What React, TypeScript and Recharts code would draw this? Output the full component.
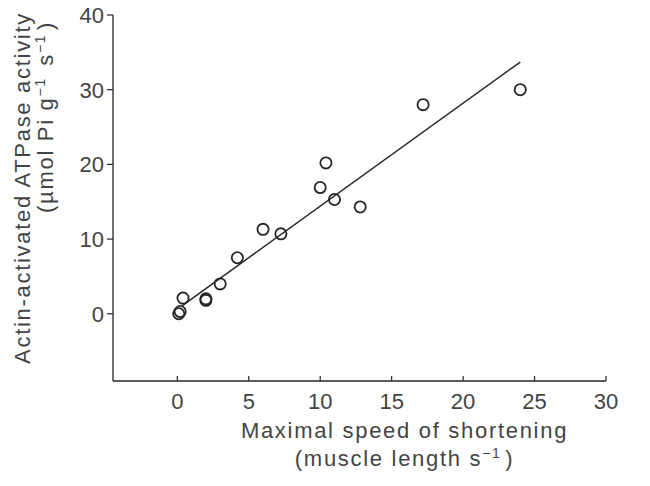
import React from 'react';
import { ScatterChart, Scatter, XAxis, YAxis } from 'recharts';

// shortening speed (muscle lengths per second) and ATPase activity per sample
const speedX = [0.1, 0.2, 0.4, 2.0, 2.0, 3.0, 4.2, 6.0, 7.25, 10.0, 10.4, 11.0, 12.8, 17.2, 24.0];
const atpaseY = [0.0, 0.3, 2.1, 1.8, 2.0, 4.0, 7.5, 11.3, 10.7, 16.9, 20.2, 15.3, 14.3, 28.0, 30.0];

// end points of the fitted regression line
const fitX = [0.35, 24.0];
const fitY = [1.1, 33.7];

const xTicks = [0, 5, 10, 15, 20, 25, 30];
const yTicks = [0, 10, 20, 30, 40];

const points = speedX.map((x, i) => ({ x, y: atpaseY[i] }));
const fit = fitX.map((x, i) => ({ x, y: fitY[i] }));

const FONT = '"Liberation Sans", Arial, Helvetica, sans-serif';
const TEXT = '#444';
const INK = '#262626';
const SIZE = 22;
const SPACING = 1.7;

const XTick = (props: any) => {
  const { x, y, payload } = props;
  return (
    <g>
      <line x1={x} x2={x} y1={y} y2={y - 5} stroke={INK} strokeWidth={1.2} />
      <text x={x} y={y + 28} textAnchor="middle" fill={TEXT} fontSize={SIZE} fontFamily={FONT}>
        {payload.value}
      </text>
    </g>
  );
};

const YTick = (props: any) => {
  const { x, y, payload } = props;
  return (
    <text x={x} y={y + 8} textAnchor="end" fill={TEXT} fontSize={SIZE} fontFamily={FONT}>
      {payload.value}
    </text>
  );
};

const Sup = ({ children }: { children: React.ReactNode }) => (
  <>
    <tspan dy={-8} fontSize={14}>{children}</tspan>
    <tspan dy={8} fontSize={SIZE}>{'\u200a'}</tspan>
  </>
);

const XTitle = (props: any) => {
  const { viewBox } = props;
  const cx = viewBox.x + viewBox.width / 2 + 45;
  const top = viewBox.y;
  return (
    <g fill={TEXT} fontSize={SIZE} fontFamily={FONT} letterSpacing={SPACING} textAnchor="middle">
      <text x={cx} y={top + 57}>Maximal speed of shortening</text>
      <text x={cx} y={top + 85}>
        (muscle length s<Sup>−1</Sup>)
      </text>
    </g>
  );
};

const YTitle = (props: any) => {
  const { viewBox } = props;
  const top = viewBox.y;
  const x1 = 30;
  const y1 = top + 173;
  const x2 = 53;
  const y2 = top + 102;
  return (
    <g fill={TEXT} fontSize={SIZE} fontFamily={FONT} letterSpacing={SPACING} textAnchor="middle">
      <text x={x1} y={y1} transform={`rotate(-90, ${x1}, ${y1})`}>
        Actin-activated ATPase activity
      </text>
      <text x={x2} y={y2} transform={`rotate(-90, ${x2}, ${y2})`}>
        (µmol Pi g<Sup>−1</Sup> s<Sup>−1</Sup>)
      </text>
    </g>
  );
};

const Ring = (props: any) => (
  <circle cx={props.cx} cy={props.cy} r={5.6} fill="none" stroke={INK} strokeWidth={1.8} />
);

const Blank = () => <g />;

export default function App() {
  return (
    <div style={{ position: 'absolute', left: 0, top: 0, background: '#fff' }}>
      <ScatterChart width={650} height={486} margin={{ top: 15, right: 44, bottom: 0, left: 0 }}>
        <XAxis
          type="number"
          dataKey="x"
          domain={[-4.5, 30]}
          ticks={xTicks}
          allowDataOverflow
          height={105}
          tickSize={0}
          tickMargin={0}
          tickLine={false}
          tick={<XTick />}
          axisLine={{ stroke: INK, strokeWidth: 1.3 }}
          label={<XTitle />}
        />
        <YAxis
          type="number"
          dataKey="y"
          domain={[-9, 40]}
          ticks={yTicks}
          allowDataOverflow
          width={113}
          tickSize={6}
          tickMargin={3}
          tickLine={{ stroke: INK, strokeWidth: 1.2 }}
          tick={<YTick />}
          axisLine={{ stroke: INK, strokeWidth: 1.3 }}
          label={<YTitle />}
        />
        <Scatter
          data={fit}
          line={{ stroke: INK, strokeWidth: 1.5 }}
          lineType="joint"
          shape={<Blank />}
          isAnimationActive={false}
        />
        <Scatter data={points} shape={<Ring />} isAnimationActive={false} />
      </ScatterChart>
    </div>
  );
}
